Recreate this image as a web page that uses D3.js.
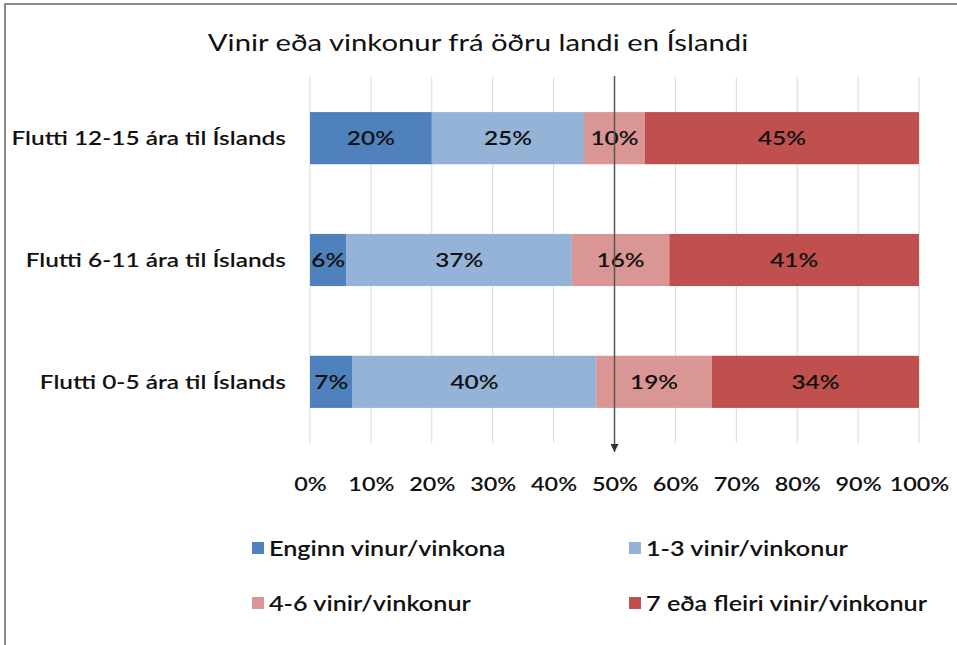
<!DOCTYPE html>
<html>
<head>
<meta charset="utf-8">
<script src="https://cdn.jsdelivr.net/npm/d3@7"></script>
<style>
  html, body { margin: 0; padding: 0; background: #fff; }
  svg { display: block; font-family: Lato, "Open Sans", sans-serif; }
</style>
</head>
<body>
<svg id="chart" width="957" height="645"></svg>
<script>
// ─── Data ────────────────────────────────────────────────────────────────────
const categories = [
  'Flutti 12-15 ára til Íslands',
  'Flutti 6-11 ára til Íslands',
  'Flutti 0-5 ára til Íslands'
];
const seriesNames = [
  'Enginn vinur/vinkona',
  '1-3 vinir/vinkonur',
  '4-6 vinir/vinkonur',
  '7 eða fleiri vinir/vinkonur'
];
const none     = [0.20, 0.06, 0.07];
const oneThree = [0.25, 0.37, 0.40];
const fourSix  = [0.10, 0.16, 0.19];
const sevenUp  = [0.45, 0.41, 0.34];
const tickValues = [0, 0.1, 0.2, 0.3, 0.4, 0.5, 0.6, 0.7, 0.8, 0.9, 1];
const markerValue = 0.5;   // the arrow line

const colors = ['#4F81BD', '#95B3D7', '#D99694', '#C0504D'];

// ─── Layout ──────────────────────────────────────────────────────────────────
const W = 957, H = 645;
const PLOT = { x0: 310, x1: 919, y0: 77, y1: 443 };
// the source image is stretched horizontally, so text is widened to match
const STRETCH = 1.22;

const svg = d3.select('#chart');

// frame (top + left edges only, as in the screenshot)
svg.append('path')
  .attr('d', `M5,${H} V4 H${W}`)
  .attr('fill', 'none')
  .attr('stroke', '#8a8a8a')
  .attr('stroke-width', 2);

svg.append('text')
  .attr('transform', `translate(478,51) scale(${STRETCH},1)`)
  .attr('text-anchor', 'middle')
  .style('font-size', '24px')
  .style('fill', '#111')
  .text('Vinir eða vinkonur frá öðru landi en Íslandi');

const x = d3.scaleLinear().domain([0, 1]).range([PLOT.x0, PLOT.x1]);
const y = d3.scaleBand()
  .domain(categories)
  .range([PLOT.y0, PLOT.y1])
  .paddingInner(0.572)
  .paddingOuter(0.288);

// ── Gridlines ────────────────────────────────────────────────────────────────
svg.append('g')
  .selectAll('line')
  .data(tickValues)
  .join('line')
  .attr('x1', d => x(d)).attr('x2', d => x(d))
  .attr('y1', PLOT.y0).attr('y2', PLOT.y1)
  .attr('stroke', '#d9d9d9')
  .attr('stroke-width', 1);

// ── Stacked bars ─────────────────────────────────────────────────────────────
const rows = categories.map((c, i) => ({
  cat: c,
  [seriesNames[0]]: none[i],
  [seriesNames[1]]: oneThree[i],
  [seriesNames[2]]: fourSix[i],
  [seriesNames[3]]: sevenUp[i]
}));
const stacked = d3.stack().keys(seriesNames)(rows);

const layer = svg.append('g')
  .selectAll('g')
  .data(stacked)
  .join('g')
  .attr('fill', (d, i) => colors[i]);

layer.selectAll('rect')
  .data(d => d)
  .join('rect')
  .attr('x', d => x(d[0]))
  .attr('y', d => y(d.data.cat))
  .attr('width', d => x(d[1]) - x(d[0]))
  .attr('height', y.bandwidth());

layer.selectAll('text')
  .data(d => d)
  .join('text')
  .attr('transform', d => `translate(${(x(d[0]) + x(d[1])) / 2},${y(d.data.cat) + y.bandwidth() / 2}) scale(${STRETCH},1)`)
  .attr('dy', '0.36em')
  .attr('text-anchor', 'middle')
  .style('font-size', '20px')
  .style('font-weight', 600)
  .style('fill', '#111')
  .text(d => Math.round((d[1] - d[0]) * 100) + '%');

// ── Category labels ──────────────────────────────────────────────────────────
svg.append('g')
  .selectAll('text')
  .data(categories)
  .join('text')
  .attr('transform', d => `translate(286,${y(d) + y.bandwidth() / 2}) scale(${STRETCH},1)`)
  .attr('dy', '0.36em')
  .attr('text-anchor', 'end')
  .style('font-size', '20px')
  .style('font-weight', 600)
  .style('fill', '#111')
  .text(d => d);

// ── X axis labels ────────────────────────────────────────────────────────────
const xAxis = svg.append('g')
  .attr('transform', `translate(0,${PLOT.y1})`)
  .call(d3.axisBottom(x).tickValues(tickValues).tickSize(0).tickPadding(34)
    .tickFormat(d3.format('.0%')));
xAxis.select('.domain').remove();
xAxis.selectAll('text')
  .attr('transform', 'scale(1.17,1)')
  .style('font-family', 'Lato, sans-serif')
  .style('font-size', '20px')
  .style('font-weight', 600)
  .style('fill', '#111');

// ── Arrow at 50% ─────────────────────────────────────────────────────────────
svg.append('defs').append('marker')
  .attr('id', 'arrow')
  .attr('viewBox', '0 0 10 10')
  .attr('refX', 10).attr('refY', 5)
  .attr('markerWidth', 8).attr('markerHeight', 8)
  .attr('markerUnits', 'userSpaceOnUse')
  .attr('orient', 'auto')
  .append('path')
  .attr('d', 'M0,0 L10,5 L0,10 Z')
  .attr('fill', '#333');

svg.append('line')
  .attr('x1', x(markerValue)).attr('x2', x(markerValue))
  .attr('y1', 76).attr('y2', 452)
  .attr('stroke', '#555')
  .attr('stroke-width', 1.5)
  .attr('marker-end', 'url(#arrow)');

// ── Legend ───────────────────────────────────────────────────────────────────
const legendPos = [[252, 548], [629, 548], [252, 603], [629, 603]];
const legend = svg.append('g')
  .selectAll('g')
  .data(seriesNames)
  .join('g')
  .attr('transform', (d, i) => `translate(${legendPos[i][0]},${legendPos[i][1]})`);

legend.append('rect')
  .attr('x', 0).attr('y', -6)
  .attr('width', 12).attr('height', 12)
  .attr('fill', (d, i) => colors[i]);

legend.append('text')
  .attr('transform', 'translate(17,0) scale(1.2,1)')
  .attr('dy', '0.36em')
  .style('font-size', '21px')
  .style('font-weight', 600)
  .style('fill', '#111')
  .text(d => d);
</script>
</body>
</html>
